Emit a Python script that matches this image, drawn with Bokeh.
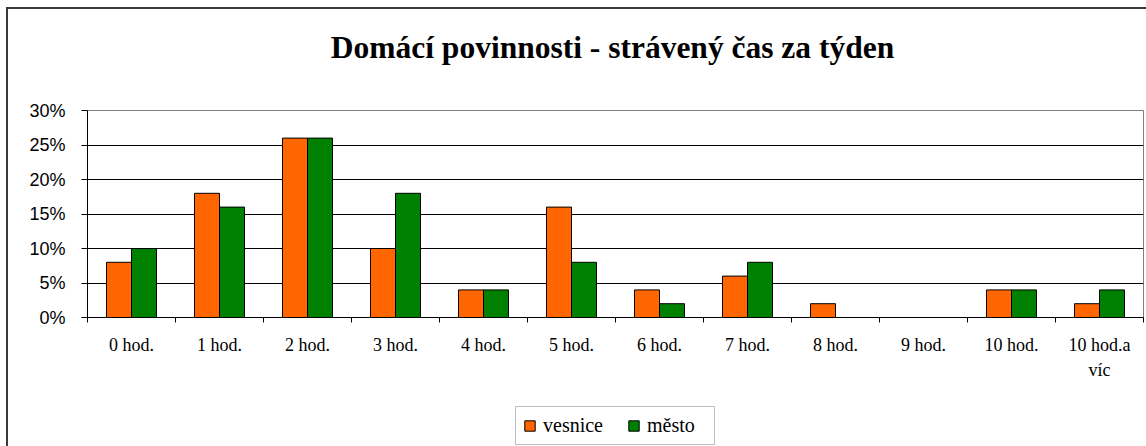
import numpy as np
from bokeh.plotting import figure
from bokeh.layouts import column
from bokeh.models import (Range1d, FixedTicker, NumeralTickFormatter, Legend, LegendItem,
                          Label, ColumnDataSource)
from bokeh.embed import file_html
from bokeh.resources import INLINE

title_text = "Domácí povinnosti - strávený čas za týden"
categories = ["0 hod.", "1 hod.", "2 hod.", "3 hod.", "4 hod.", "5 hod.", "6 hod.",
              "7 hod.", "8 hod.", "9 hod.", "10 hod.", "10 hod.a\nvíc"]
vesnice = [0.08, 0.18, 0.26, 0.10, 0.04, 0.16, 0.04, 0.06, 0.02, 0.00, 0.04, 0.02]
mesto = [0.10, 0.16, 0.26, 0.18, 0.04, 0.08, 0.02, 0.08, 0.00, 0.00, 0.04, 0.04]
series_names = ["vesnice", "město"]
series_colors = ["#FF6600", "#008000"]
y_ticks = [0.0, 0.05, 0.10, 0.15, 0.20, 0.25, 0.30]

n = len(categories)
centers = np.arange(n) + 0.5
bw = 0.284
W = 1138


def blank(height):
    f = figure(width=W, height=height, output_backend="svg", toolbar_location=None,
               x_axis_location=None, y_axis_location=None,
               x_range=Range1d(0, 1), y_range=Range1d(0, 1),
               min_border=0)
    f.outline_line_color = None
    f.xgrid.grid_line_color = None
    f.ygrid.grid_line_color = None
    return f


# ---- title strip
pt = blank(66)
pt.add_layout(Label(x=525, y=28, x_units="screen", y_units="screen", text=title_text,
                    text_align="center", text_baseline="alphabetic",
                    text_font="Liberation Serif", text_font_style="bold",
                    text_font_size="31.5px", text_color="black"))

# ---- chart
p = figure(width=W, height=310, output_backend="svg", toolbar_location=None,
           x_range=Range1d(0, n), y_range=Range1d(0, 0.30),
           min_border_left=79, min_border_top=35, min_border_right=3, min_border_bottom=68)

r1 = p.vbar(x=centers - bw / 2, top=vesnice, width=bw, fill_color=series_colors[0],
            line_color="black", line_width=1)
r2 = p.vbar(x=centers + bw / 2, top=mesto, width=bw, fill_color=series_colors[1],
            line_color="black", line_width=1)

p.outline_line_color = "#808080"

xa = p.xaxis[0]
xa.ticker = FixedTicker(ticks=list(centers), minor_ticks=list(range(n + 1)))
xa.major_label_overrides = {float(c): lab for c, lab in zip(centers, categories)}
xa.major_tick_line_color = None
xa.major_tick_out = 0
xa.major_tick_in = 0
xa.minor_tick_line_color = "black"
xa.minor_tick_out = 5
xa.minor_tick_in = 0
xa.axis_line_color = "black"
xa.major_label_text_font = "Liberation Serif"
xa.major_label_text_font_size = "18px"
xa.major_label_text_color = "black"
xa.major_label_text_line_height = 1.25
xa.major_label_standoff = 12
xa.major_label_orientation = "horizontal"

ya = p.yaxis[0]
ya.ticker = FixedTicker(ticks=y_ticks)
ya.formatter = NumeralTickFormatter(format="0%")
ya.major_tick_out = 6
ya.major_tick_in = 0
ya.minor_tick_line_color = None
ya.major_tick_line_color = "black"
ya.axis_line_color = "black"
ya.major_label_text_font = "Liberation Sans"
ya.major_label_text_font_size = "18px"
ya.major_label_text_color = "black"
ya.major_label_standoff = 16

p.xgrid.grid_line_color = None
p.ygrid.grid_line_color = "black"
p.ygrid.grid_line_width = 1

# ---- legend strip (swatch renderers carry no drawable data)
pl = blank(61)
swatch = ColumnDataSource(data=dict(x=np.array([np.nan]), top=np.array([np.nan])))
l1 = pl.vbar(x="x", top="top", width=0.1, source=swatch, fill_color=series_colors[0],
             line_color="black", line_width=1)
l2 = pl.vbar(x="x", top="top", width=0.1, source=swatch, fill_color=series_colors[1],
             line_color="black", line_width=1)
legend = Legend(items=[LegendItem(label=series_names[0], renderers=[l1]),
                       LegendItem(label=series_names[1], renderers=[l2])],
                orientation="horizontal", location=(428, 1))
legend.label_text_font = "Liberation Serif"
legend.label_text_font_size = "20px"
legend.label_text_color = "black"
legend.glyph_width = 13
legend.glyph_height = 13
legend.label_standoff = 7
legend.label_width = 60
legend.spacing = 24
legend.padding = 7
legend.margin = 0
legend.border_line_color = "#808080"
legend.border_line_width = 1
legend.background_fill_color = "white"
pl.add_layout(legend)

layout = column(pt, p, pl, spacing=0)
layout.styles = {"border-left": "2px solid #3a3a3a", "border-top": "2px solid #3a3a3a",
                 "margin-left": "6px", "margin-top": "7px"}

open("out.html", "w").write(file_html(layout, INLINE))
